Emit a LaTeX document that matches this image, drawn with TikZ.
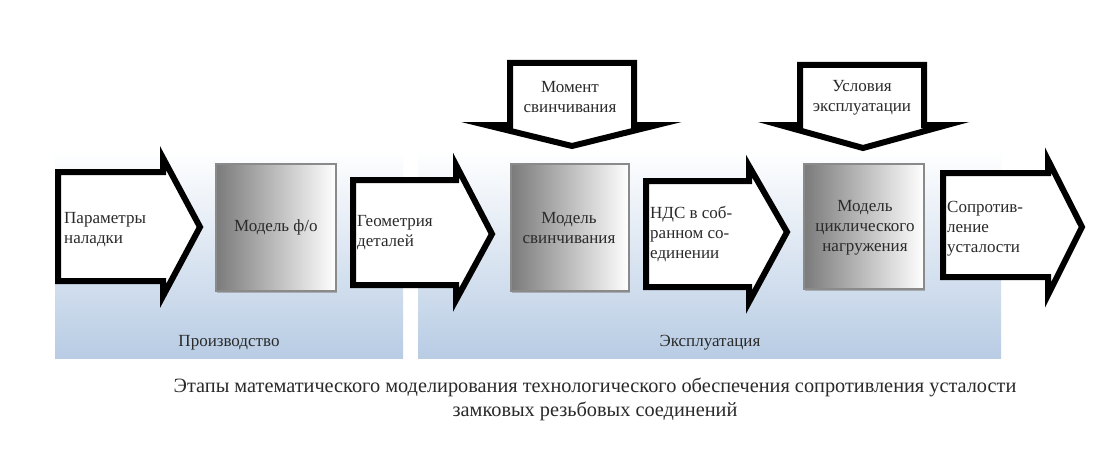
\documentclass[tikz,border=0pt]{standalone}
\usepackage{fontspec}
\setmainfont{Liberation Serif}
\usetikzlibrary{shadows}
\definecolor{panelblue}{HTML}{B8CCE4}
\definecolor{txt}{HTML}{2A2A2A}
\definecolor{boxedge}{HTML}{8A8A8A}
\begin{document}
\begin{tikzpicture}[x=1pt,y=-1pt,
  panel/.style={top color=white, bottom color=panelblue, draw=none},
  arrowshape/.style={draw=black, fill=white, line width=6pt, miter limit=20, line join=miter},
  modelbox/.style={left color=black!52, right color=white, draw=boxedge, line width=1.8pt,
    drop shadow={shadow xshift=1.5pt, shadow yshift=-2pt, fill=black!45, opacity=0.6}},
  lbl/.style={font=\fontsize{17}{20}\selectfont, text=txt, inner sep=0pt},
  lbll/.style={lbl, align=left, anchor=west},
  lblc/.style={lbl, align=center},
  paneltxt/.style={font=\fontsize{17}{20}\selectfont, text=txt, inner sep=0pt},
  captxt/.style={font=\fontsize{20.3}{24}\selectfont, text=txt, align=center, inner sep=0pt}
]
\useasboundingbox (0,0) rectangle (1120,452);
\fill[white] (0,0) rectangle (1120,452);

% background panels
\path[panel] (55,150) rectangle (403,358);
\path[panel] (418,150) rectangle (1001,358);
\node[paneltxt] (prod) at (229,343) {Производство};
\node[paneltxt] (expl) at (710,343) {Эксплуатация};

% right arrows
\draw[arrowshape] (58,172) -- (163,172) -- (163,158) -- (200,227) -- (163,296) -- (163,281) -- (58,281) -- cycle;
\draw[arrowshape] (353,180) -- (456,180) -- (456,165) -- (492,234) -- (456,300) -- (456,285) -- (353,285) -- cycle;
\draw[arrowshape] (646,181) -- (749,181) -- (749,166) -- (787,232) -- (749,302) -- (749,287) -- (646,287) -- cycle;
\draw[arrowshape] (943,173) -- (1048,173) -- (1048,160) -- (1082,227) -- (1048,295) -- (1048,277) -- (943,277) -- cycle;

% down arrows
\draw[arrowshape] (510,63) -- (634,63) -- (634,125) -- (657,125) -- (572,146) -- (486,125) -- (510,125) -- cycle;
\draw[arrowshape] (800,65) -- (924,65) -- (924,125) -- (947,125) -- (863,148) -- (780,125) -- (800,125) -- cycle;

% model boxes
\node[modelbox, minimum width=120pt, minimum height=127pt, inner sep=0pt, anchor=north west] (m1) at (215,163) {};
\node[modelbox, minimum width=118pt, minimum height=127pt, inner sep=0pt, anchor=north west] (m2) at (510,163) {};
\node[modelbox, minimum width=120pt, minimum height=125pt, inner sep=0pt, anchor=north west] (m3) at (803,163) {};

% labels
\node[lbll] (t1) at (64,230) {Параметры\\наладки};
\node[lblc] (t2) at (m1.center) {Модель ф/о};
\node[lbll] (t3) at (357,233) {Геометрия\\деталей};
\node[lblc] (t4) at (569,228) {Модель\\свинчивания};
\node[lbll] (t5) at (650,234) {НДС в соб-\\ранном со-\\единении};
\node[lblc] (t6) at (570,97) {Момент\\свинчивания};
\node[lblc] (t7) at (862,98) {Условия\\эксплуатации};
\node[lblc] (t8) at (865,228) {Модель\\циклического\\нагружения};
\node[lbll] (t9) at (947,229) {Сопротив-\\ление\\усталости};

% caption
\node[captxt] (cap) at (595,399) {Этапы математического моделирования технологического обеспечения сопротивления усталости\\замковых резьбовых соединений};
\end{tikzpicture}
\end{document}
